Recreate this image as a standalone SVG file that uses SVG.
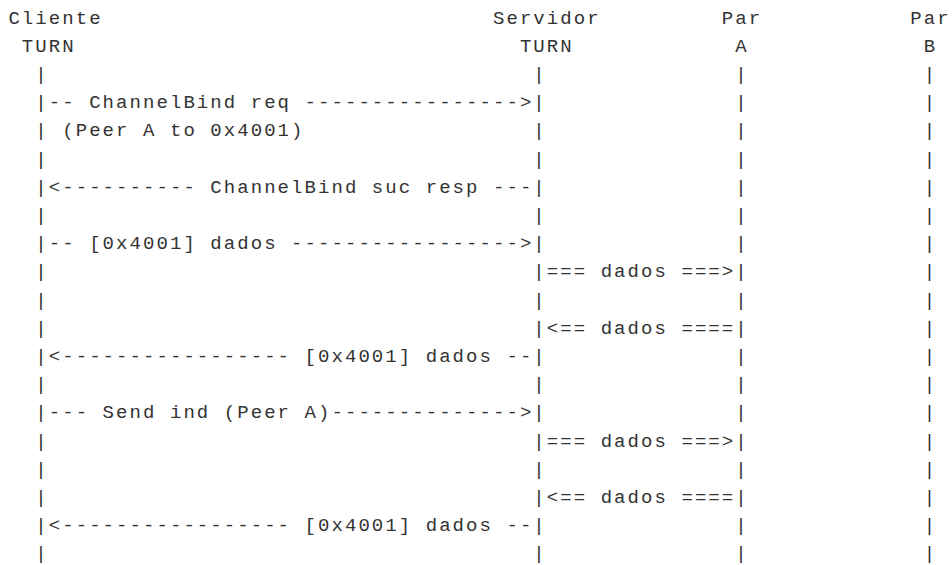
<svg xmlns="http://www.w3.org/2000/svg" width="952" height="565" viewBox="0 0 952 565">
  <style>
    .t { font-family: "Liberation Mono", "DejaVu Sans Mono", monospace; font-size: 19px; letter-spacing: 2.06px; fill: #333; white-space: pre; }
  </style>
  <rect width="952" height="565" fill="#ffffff"/>

  <!-- participants: header labels and their "|" lifelines (one column each) -->
  <g id="cliente-turn">
    <text class="t" x="8.4" y="23.5">Cliente</text>
    <text class="t" x="21.86" y="51.7">TURN</text>
    <text class="t">
      <tspan x="35.32" y="79.9">|</tspan><tspan x="35.32" y="108.1">|</tspan><tspan x="35.32" y="136.3">|</tspan><tspan x="35.32" y="164.5">|</tspan><tspan x="35.32" y="192.7">|</tspan><tspan x="35.32" y="220.9">|</tspan><tspan x="35.32" y="249.1">|</tspan><tspan x="35.32" y="277.3">|</tspan><tspan x="35.32" y="305.5">|</tspan><tspan x="35.32" y="333.7">|</tspan><tspan x="35.32" y="361.9">|</tspan><tspan x="35.32" y="390.1">|</tspan><tspan x="35.32" y="418.3">|</tspan><tspan x="35.32" y="446.5">|</tspan><tspan x="35.32" y="474.7">|</tspan><tspan x="35.32" y="502.9">|</tspan><tspan x="35.32" y="531.1">|</tspan><tspan x="35.32" y="559.3">|</tspan>
    </text>
  </g>

  <g id="servidor-turn">
    <text class="t" x="492.96" y="23.5">Servidor</text>
    <text class="t" x="519.88" y="51.7">TURN</text>
    <text class="t">
      <tspan x="533.34" y="79.9">|</tspan><tspan x="533.34" y="108.1">|</tspan><tspan x="533.34" y="136.3">|</tspan><tspan x="533.34" y="164.5">|</tspan><tspan x="533.34" y="192.7">|</tspan><tspan x="533.34" y="220.9">|</tspan><tspan x="533.34" y="249.1">|</tspan><tspan x="533.34" y="277.3">|</tspan><tspan x="533.34" y="305.5">|</tspan><tspan x="533.34" y="333.7">|</tspan><tspan x="533.34" y="361.9">|</tspan><tspan x="533.34" y="390.1">|</tspan><tspan x="533.34" y="418.3">|</tspan><tspan x="533.34" y="446.5">|</tspan><tspan x="533.34" y="474.7">|</tspan><tspan x="533.34" y="502.9">|</tspan><tspan x="533.34" y="531.1">|</tspan><tspan x="533.34" y="559.3">|</tspan>
    </text>
  </g>

  <g id="par-a">
    <text class="t" x="721.78" y="23.5">Par</text>
    <text class="t" x="735.24" y="51.7">A</text>
    <text class="t">
      <tspan x="735.24" y="79.9">|</tspan><tspan x="735.24" y="108.1">|</tspan><tspan x="735.24" y="136.3">|</tspan><tspan x="735.24" y="164.5">|</tspan><tspan x="735.24" y="192.7">|</tspan><tspan x="735.24" y="220.9">|</tspan><tspan x="735.24" y="249.1">|</tspan><tspan x="735.24" y="277.3">|</tspan><tspan x="735.24" y="305.5">|</tspan><tspan x="735.24" y="333.7">|</tspan><tspan x="735.24" y="361.9">|</tspan><tspan x="735.24" y="390.1">|</tspan><tspan x="735.24" y="418.3">|</tspan><tspan x="735.24" y="446.5">|</tspan><tspan x="735.24" y="474.7">|</tspan><tspan x="735.24" y="502.9">|</tspan><tspan x="735.24" y="531.1">|</tspan><tspan x="735.24" y="559.3">|</tspan>
    </text>
  </g>

  <g id="par-b">
    <text class="t" x="910.22" y="23.5">Par</text>
    <text class="t" x="923.68" y="51.7">B</text>
    <text class="t">
      <tspan x="923.68" y="79.9">|</tspan><tspan x="923.68" y="108.1">|</tspan><tspan x="923.68" y="136.3">|</tspan><tspan x="923.68" y="164.5">|</tspan><tspan x="923.68" y="192.7">|</tspan><tspan x="923.68" y="220.9">|</tspan><tspan x="923.68" y="249.1">|</tspan><tspan x="923.68" y="277.3">|</tspan><tspan x="923.68" y="305.5">|</tspan><tspan x="923.68" y="333.7">|</tspan><tspan x="923.68" y="361.9">|</tspan><tspan x="923.68" y="390.1">|</tspan><tspan x="923.68" y="418.3">|</tspan><tspan x="923.68" y="446.5">|</tspan><tspan x="923.68" y="474.7">|</tspan><tspan x="923.68" y="502.9">|</tspan><tspan x="923.68" y="531.1">|</tspan><tspan x="923.68" y="559.3">|</tspan>
    </text>
  </g>

  <!-- messages between the lifelines, drawn as monospace arrows -->
  <g id="connectors">
    <text class="t" x="48.78" y="108.1">-- ChannelBind req ----------------&gt;</text>
    <text class="t" x="48.78" y="136.3"> (Peer A to 0x4001)</text>
    <text class="t" x="48.78" y="192.7">&lt;---------- ChannelBind suc resp ---</text>
    <text class="t" x="48.78" y="249.1">-- [0x4001] dados -----------------&gt;</text>
    <text class="t" x="546.8" y="277.3">=== dados ===&gt;</text>
    <text class="t" x="546.8" y="333.7">&lt;== dados ====</text>
    <text class="t" x="48.78" y="361.9">&lt;----------------- [0x4001] dados --</text>
    <text class="t" x="48.78" y="418.3">--- Send ind (Peer A)--------------&gt;</text>
    <text class="t" x="546.8" y="446.5">=== dados ===&gt;</text>
    <text class="t" x="546.8" y="502.9">&lt;== dados ====</text>
    <text class="t" x="48.78" y="531.1">&lt;----------------- [0x4001] dados --</text>
  </g>
</svg>
